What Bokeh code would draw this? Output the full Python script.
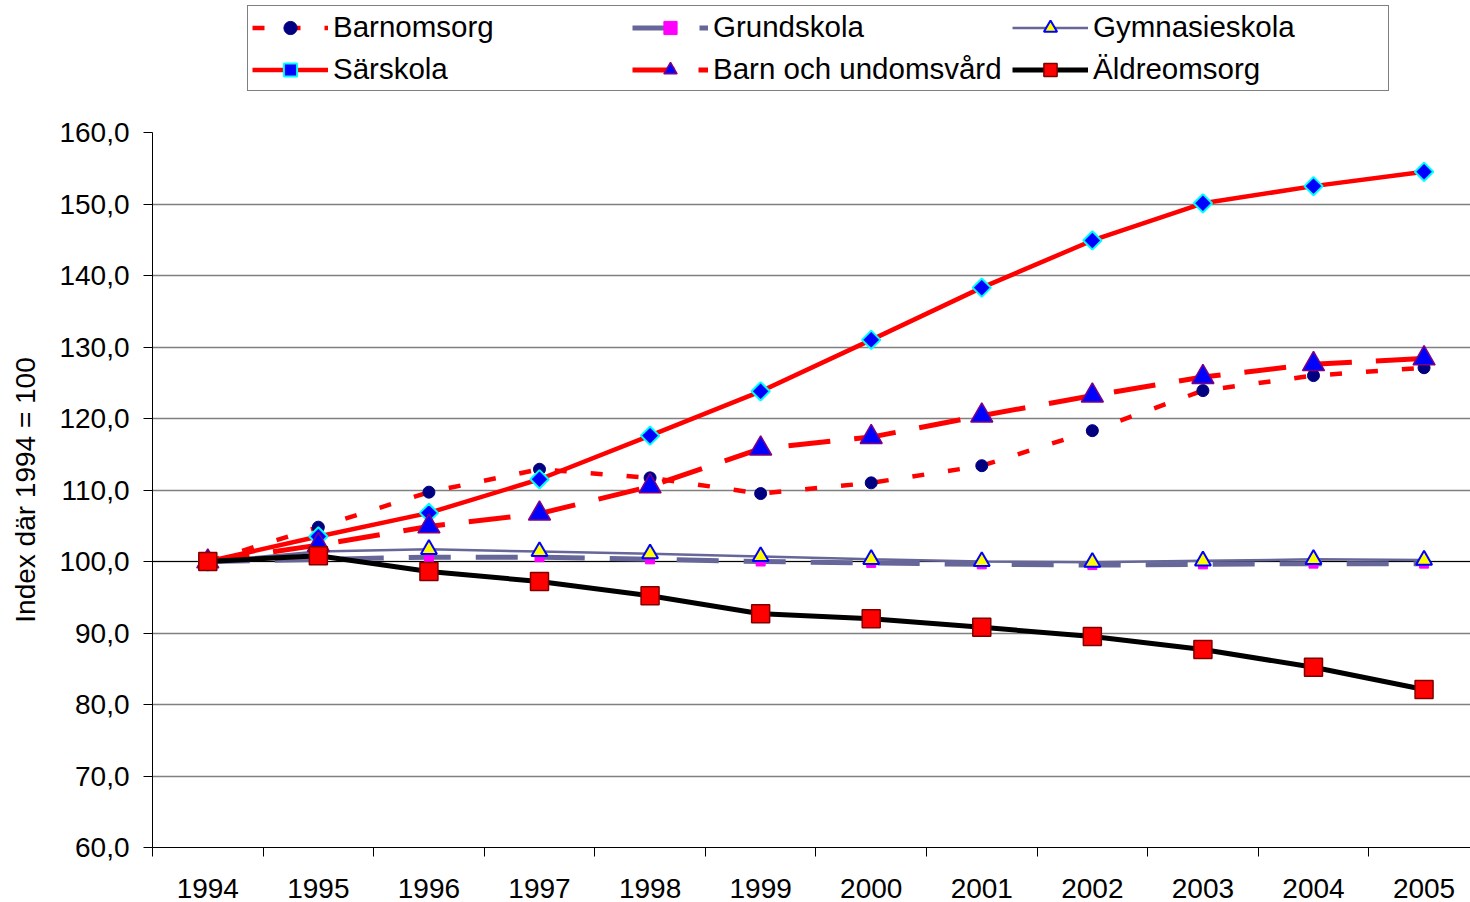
import math
from bokeh.plotting import figure
from bokeh.layouts import column
from bokeh.models import FixedTicker, Legend, LegendItem, Span
from bokeh.embed import file_html
from bokeh.resources import INLINE

years = [1994, 1995, 1996, 1997, 1998, 1999, 2000, 2001, 2002, 2003, 2004, 2005]
barnomsorg = [100.0, 104.8, 109.7, 112.9, 111.7, 109.5, 111.0, 113.4, 118.3, 123.9, 126.0, 127.1]
grundskola = [100.0, 100.3, 100.6, 100.6, 100.3, 100.0, 99.8, 99.6, 99.5, 99.6, 99.7, 99.7]
gymnasieskola = [100.0, 101.4, 101.7, 101.4, 101.1, 100.7, 100.3, 100.0, 99.9, 100.1, 100.3, 100.2]
sarskola = [100.0, 103.5, 106.8, 111.5, 117.6, 123.8, 131.0, 138.3, 144.9, 150.1, 152.5, 154.5]
barn_ungdom = [100.0, 102.3, 104.9, 106.7, 110.5, 115.8, 117.4, 120.4, 123.2, 125.8, 127.6, 128.4]
aldreomsorg = [100.0, 100.8, 98.6, 97.2, 95.2, 92.7, 92.0, 90.8, 89.5, 87.7, 85.2, 82.1]

labels = ["Barnomsorg", "Grundskola", "Gymnasieskola", "Särskola",
          "Barn och undomsvård", "Äldreomsorg"]
y_ticks = [60, 70, 80, 90, 100, 110, 120, 130, 140, 150, 160]
BASE = 100
FONT = "Liberation Sans"
FS = "28px"

p = figure(width=1470, height=790, x_range=(1993.5, 2005.42), y_range=(60, 160),
           output_backend="svg", toolbar_location=None,
           min_border_left=152, min_border_right=0, min_border_top=20,
           min_border_bottom=55)
p.outline_line_color = None
p.background_fill_color = "white"
p.xgrid.visible = False
p.ygrid.grid_line_color = "#808080"
p.ygrid.grid_line_width = 1.5

# y axis
p.yaxis.ticker = FixedTicker(ticks=y_ticks)
p.yaxis.major_label_overrides = {t: f"{t},0" for t in y_ticks}
p.yaxis.minor_tick_line_color = None
p.yaxis.major_tick_out = 9
p.yaxis.major_tick_in = 0
p.yaxis.major_label_standoff = 14
p.yaxis.axis_label = "Index där 1994 = 100"
p.yaxis.axis_label_text_font_style = "normal"
p.yaxis.axis_label_text_font = FONT
p.yaxis.axis_label_text_font_size = FS
p.yaxis.axis_label_text_color = "black"
p.yaxis.axis_label_standoff = 15

# x axis
p.xaxis.ticker = FixedTicker(ticks=years, minor_ticks=[y - 0.5 for y in years] + [years[-1] + 0.5])
p.xaxis.major_label_overrides = {y: str(y) for y in years}
p.xaxis.major_tick_out = 0
p.xaxis.major_tick_in = 0
p.xaxis.minor_tick_out = 9
p.xaxis.minor_tick_in = 0
p.xaxis.minor_tick_line_color = "black"
p.xaxis.major_label_standoff = 22

for ax in (p.xaxis, p.yaxis):
    ax.axis_line_color = "black"
    ax.major_tick_line_color = "black"
    ax.major_label_text_font = FONT
    ax.major_label_text_font_size = FS
    ax.major_label_text_color = "black"

p.add_layout(Span(location=BASE, dimension="width", line_color="black",
                  line_width=1, level="underlay"))

# legend strip above the chart (its glyphs use the same data, outside its view)
pl = figure(width=1470, height=112, x_range=(0, 1), y_range=(0, 1),
            output_backend="svg", toolbar_location=None,
            min_border_left=0, min_border_right=0, min_border_top=0, min_border_bottom=0)
pl.axis.visible = False
pl.grid.visible = False
pl.outline_line_color = None

leg_items = {}

def series(vals, label, lcolor, lwidth, dash, marker, msize, fill, mline, mlw, angle=0.0):
    rs = []
    for fig in (p, pl):
        l = fig.line(years, vals, line_color=lcolor, line_width=lwidth, line_dash=dash)
        s = fig.scatter(years, vals, marker=marker, size=msize, fill_color=fill,
                        line_color=mline, line_width=mlw, angle=angle)
        rs.append([l, s])
    leg_items[label] = LegendItem(label=label, renderers=rs[1])

series(barnomsorg, labels[0], "#FF0000", 4.5, "12 24", "circle", 12, "#000080", "#000080", 1)
series(grundskola, labels[1], "#666699", 5, "42 25", "square", 9, "#FF00FF", "#FF00FF", 1)
series(gymnasieskola, labels[2], "#666699", 2.5, "solid", "triangle", 16, "#FFFF00", "#0000FF", 2)
series(sarskola, labels[3], "#FF0000", 4.5, "solid", "square", 13, "#0000FF", "#00FFFF", 2, math.pi / 4)
series(barn_ungdom, labels[4], "#FF0000", 5, "42 24", "triangle", 22, "#0000FF", "#800080", 1.5)
series(aldreomsorg, labels[5], "#000000", 5, "solid", "square", 18, "#FF0000", "#800000", 1.5)

# legend fills column by column: order so rows read as in the original
order = [labels[0], labels[3], labels[1], labels[4], labels[2], labels[5]]
legend = Legend(items=[leg_items[k] for k in order], ncols=3, location=(95, 21), margin=0,
                padding=4, spacing=8, glyph_width=76, glyph_height=33,
                label_height=33, label_width=291, label_standoff=5,
                label_text_font=FONT, label_text_font_size="29.5px", label_text_color="black",
                border_line_color="black", border_line_width=1,
                background_fill_color="white", background_fill_alpha=1.0)
pl.add_layout(legend)

open("out.html", "w").write(file_html(column(pl, p, spacing=0), INLINE))
